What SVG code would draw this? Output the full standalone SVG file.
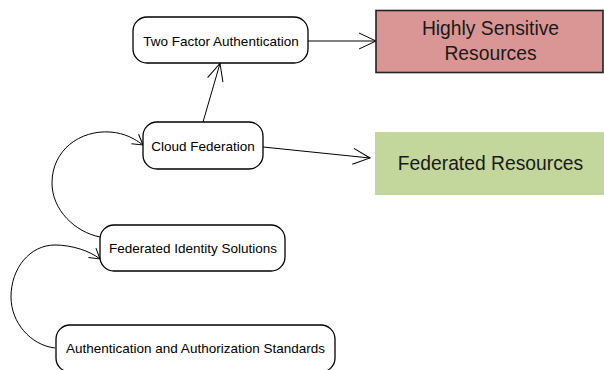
<svg xmlns="http://www.w3.org/2000/svg" width="604" height="370" viewBox="0 0 604 370">
  <style>
    .node rect.round { fill: #ffffff; stroke: #000000; stroke-width: 1.3; }
    .label { font-family: "Liberation Sans", Arial, sans-serif; font-size: 13.5px; fill: #000000; text-anchor: middle; }
    .big { font-family: "Liberation Sans", Arial, sans-serif; font-size: 19.3px; fill: #1a1a1a; text-anchor: middle; }
    .edge { fill: none; stroke: #000000; stroke-width: 1; }
  </style>
  <defs>
    <marker id="openArrow" markerUnits="userSpaceOnUse" viewBox="-20 -10 22 20" markerWidth="22" markerHeight="20" refX="0" refY="0" orient="auto" overflow="visible">
      <path d="M-17,-8 L0,0 L-17,8" fill="none" stroke="#000000" stroke-width="1"/>
    </marker>
    <marker id="smallArrow" markerUnits="userSpaceOnUse" viewBox="-14 -8 16 16" markerWidth="16" markerHeight="16" refX="0" refY="0" orient="auto" overflow="visible">
      <path d="M-10,-6 L0,0 L-10,6" fill="none" stroke="#000000" stroke-width="1"/>
    </marker>
  </defs>

  <rect width="604" height="370" fill="#ffffff"/>

  <!-- connectors -->
  <g id="connectors">
    <line class="edge" x1="203" y1="122" x2="220" y2="63.5" marker-end="url(#openArrow)"/>
    <line class="edge" x1="308" y1="41" x2="376" y2="41" marker-end="url(#openArrow)"/>
    <line class="edge" x1="263" y1="147" x2="370" y2="158" marker-end="url(#openArrow)"/>
    <path class="edge" d="M100,237 C75,232 52,210 52,183 C52,150 80,130 110,132 C125,133 135,139 143,145" marker-end="url(#smallArrow)"/>
    <path class="edge" d="M55,348 C30,345 11,322 11,297 C11,268 30,245 55,245 C72,245 90,251 100,259" marker-end="url(#smallArrow)"/>
  </g>

  <!-- nodes -->
  <g id="two-factor" class="node">
    <rect class="round" x="133" y="17" width="175" height="46" rx="14" ry="14"/>
    <text class="label" x="221" y="46">Two Factor Authentication</text>
  </g>

  <g id="cloud-federation" class="node">
    <rect class="round" x="143" y="122" width="120" height="47" rx="14" ry="14"/>
    <text class="label" x="203" y="151">Cloud Federation</text>
  </g>

  <g id="federated-identity" class="node">
    <rect class="round" x="100" y="225" width="185" height="46" rx="14" ry="14"/>
    <text class="label" x="193" y="253">Federated Identity Solutions</text>
  </g>

  <g id="auth-standards" class="node">
    <rect class="round" x="56" y="325" width="279" height="47" rx="14" ry="14"/>
    <text class="label" x="195.5" y="353">Authentication and Authorization Standards</text>
  </g>

  <g id="highly-sensitive" class="node">
    <rect x="376" y="10.5" width="227" height="62" fill="#d99694" stroke="#222222" stroke-width="1.6"/>
    <text class="big" x="490.5" y="34.5">Highly Sensitive</text>
    <text class="big" x="490.5" y="60">Resources</text>
  </g>

  <g id="federated-resources" class="node">
    <rect x="375" y="132" width="231" height="63" fill="#c3d69b"/>
    <text class="big" x="490.5" y="170">Federated Resources</text>
  </g>
</svg>
